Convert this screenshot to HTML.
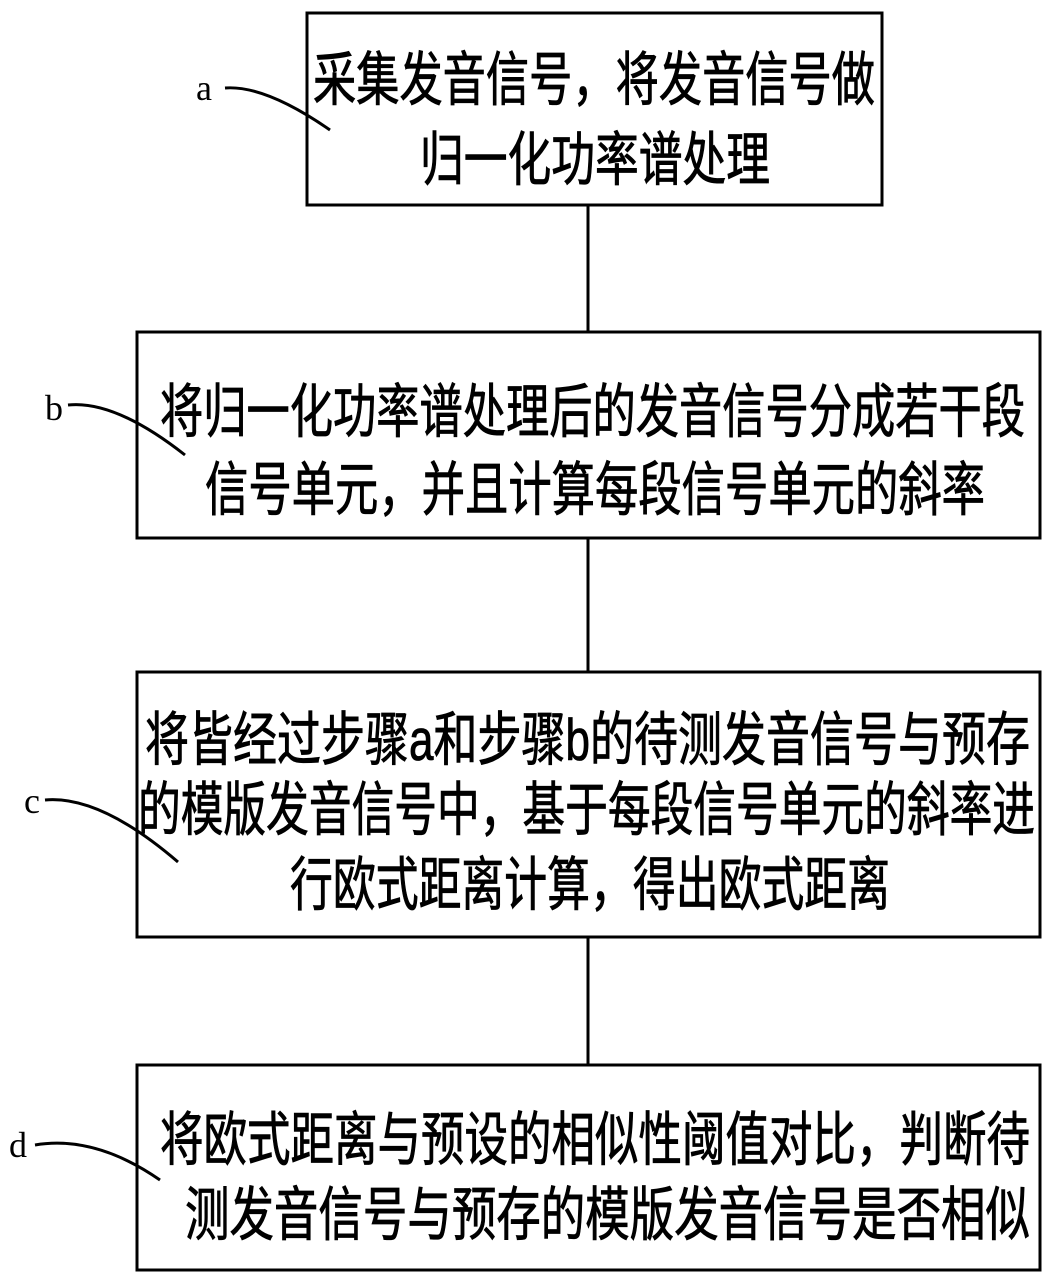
<!DOCTYPE html>
<html><head><meta charset="utf-8"><style>
html,body{margin:0;padding:0;background:#fff;}
svg{display:block;}
.t{font-family:"Liberation Sans","Noto Sans CJK SC",sans-serif;font-size:42px;font-weight:normal;fill:#000;stroke:#000;stroke-width:0.6px;}
.l{font-family:"Liberation Serif",serif;font-size:36px;fill:#000;}
</style></head><body>
<svg width="1058" height="1285" viewBox="0 0 1058 1285" xmlns="http://www.w3.org/2000/svg">
<g fill="none" stroke="#000" stroke-width="3">
<rect x="307" y="13" width="575" height="192"/>
<rect x="137" y="332" width="903" height="206"/>
<rect x="137" y="672" width="903" height="265"/>
<rect x="137" y="1065" width="903" height="205"/>
<line x1="588" y1="205" x2="588" y2="332"/>
<line x1="588" y1="538" x2="588" y2="672"/>
<line x1="588" y1="937" x2="588" y2="1065"/>
<path d="M225 88 Q265 85 330 130"/>
<path d="M68 405 Q115 400 185 455"/>
<path d="M45 800 Q100 795 178 862"/>
<path d="M35 1145 Q95 1135 160 1180"/>
</g>
<text class="l" x="196" y="100">a</text>
<text class="l" x="45" y="420">b</text>
<text class="l" x="24" y="813">c</text>
<text class="l" x="9" y="1157">d</text>
<g transform="translate(0,100) scale(1,1.4)"><text class="t" x="313" y="0" textLength="562" lengthAdjust="spacingAndGlyphs">采集发音信号，将发音信号做</text></g>
<g transform="translate(0,180) scale(1,1.4)"><text class="t" x="420" y="0" textLength="350" lengthAdjust="spacingAndGlyphs">归一化功率谱处理</text></g>
<g transform="translate(0,432) scale(1,1.4)"><text class="t" x="160" y="0" textLength="865" lengthAdjust="spacingAndGlyphs">将归一化功率谱处理后的发音信号分成若干段</text></g>
<g transform="translate(0,510) scale(1,1.4)"><text class="t" x="205" y="0" textLength="780" lengthAdjust="spacingAndGlyphs">信号单元，并且计算每段信号单元的斜率</text></g>
<g transform="translate(0,760) scale(1,1.4)"><text class="t" x="145" y="0" textLength="885" lengthAdjust="spacingAndGlyphs">将皆经过步骤a和步骤b的待测发音信号与预存</text></g>
<g transform="translate(0,830) scale(1,1.4)"><text class="t" x="138" y="0" textLength="897" lengthAdjust="spacingAndGlyphs">的模版发音信号中，基于每段信号单元的斜率进</text></g>
<g transform="translate(0,905) scale(1,1.4)"><text class="t" x="290" y="0" textLength="600" lengthAdjust="spacingAndGlyphs">行欧式距离计算，得出欧式距离</text></g>
<g transform="translate(0,1160) scale(1,1.4)"><text class="t" x="160" y="0" textLength="870" lengthAdjust="spacingAndGlyphs">将欧式距离与预设的相似性阈值对比，判断待</text></g>
<g transform="translate(0,1235) scale(1,1.4)"><text class="t" x="185" y="0" textLength="845" lengthAdjust="spacingAndGlyphs">测发音信号与预存的模版发音信号是否相似</text></g>
</svg>
</body></html>
